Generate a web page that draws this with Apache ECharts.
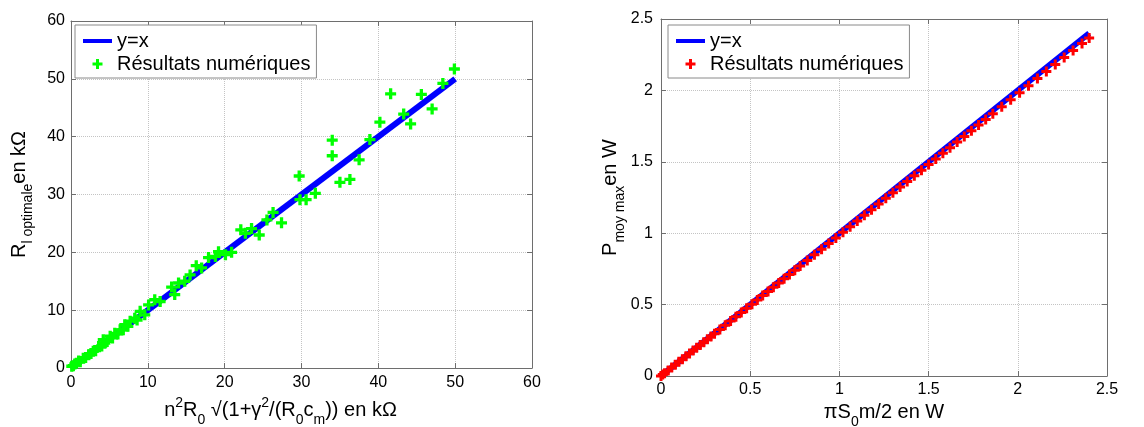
<!DOCTYPE html>
<html>
<head>
<meta charset="utf-8">
<script src="https://cdn.jsdelivr.net/npm/echarts@6/dist/echarts.min.js"></script>
<style>
  html, body { margin: 0; padding: 0; background: #fff; }
  #main { width: 1144px; height: 427px; }
</style>
</head>
<body>
<div id="main"></div>
<script>
// left panel: optimal load resistance (kOhm)
var resX = [0.1, 0.3, 0.5, 0.7, 1.0, 1.2, 1.6, 1.9, 2.3, 2.6, 2.9, 3.2, 3.6, 4.0, 4.2, 4.4, 4.7, 5.1, 5.4, 5.7,
            6.1, 6.4, 6.8, 7.0, 7.4, 7.7, 8.3, 8.6, 9.0, 9.6, 10.1, 10.9, 11.6, 13.1, 13.5, 14.0, 14.8, 15.5, 16.3, 17.0,
            17.9, 18.8, 19.2, 20.1, 20.9, 22.1, 22.7, 23.5, 24.5, 25.5, 26.3, 27.4, 29.7, 29.8, 30.6, 31.8, 34.0, 34.0, 35.0, 36.3,
            37.5, 38.9, 40.2, 41.6, 43.3, 44.2, 45.6, 47.0, 48.4, 49.9];
var resY = [0.3, 0.4, 0.7, 0.8, 1.2, 1.1, 1.7, 1.8, 2.3, 2.5, 2.9, 3.0, 3.7, 3.8, 4.9, 4.3, 4.6, 5.5, 5.2, 6.0,
            5.9, 6.6, 6.6, 7.5, 7.2, 8.1, 8.6, 8.3, 9.8, 9.2, 10.9, 11.8, 11.5, 14.0, 12.7, 14.7, 15.0, 16.1, 17.7, 17.3,
            19.1, 19.3, 20.1, 19.6, 20.0, 23.9, 23.3, 24.1, 23.0, 25.6, 26.9, 25.1, 33.2, 29.1, 29.1, 30.2, 39.4, 36.7, 32.1, 32.6,
            36.0, 39.5, 42.5, 47.4, 43.9, 42.2, 47.3, 44.8, 49.2, 51.7];
var refLeft = [[0, 0], [50, 50]];

// right panel: maximal mean power (W)
var pwrX = [0, 0.01, 0.02, 0.04, 0.06, 0.08, 0.10, 0.12, 0.14, 0.16, 0.18, 0.20, 0.22, 0.24, 0.26, 0.28, 0.30,
            0.33, 0.36, 0.39, 0.42, 0.45, 0.48, 0.51, 0.54, 0.57, 0.60, 0.63, 0.66, 0.69, 0.72, 0.75, 0.78,
            0.82, 0.86, 0.90, 0.94, 0.98, 1.02, 1.06, 1.10, 1.14, 1.18, 1.22, 1.26, 1.30, 1.34, 1.38, 1.42,
            1.46, 1.50, 1.54, 1.58, 1.62, 1.66, 1.70, 1.74, 1.78, 1.82, 1.86, 1.91, 1.96, 2.01, 2.06, 2.11,
            2.16, 2.21, 2.26, 2.31, 2.36, 2.40];
var pwrY = [0, 0.010, 0.020, 0.039, 0.059, 0.079, 0.099, 0.118, 0.138, 0.158, 0.178, 0.197, 0.217, 0.237, 0.257, 0.276, 0.296,
            0.326, 0.355, 0.385, 0.415, 0.444, 0.474, 0.503, 0.533, 0.563, 0.592, 0.622, 0.651, 0.681, 0.711, 0.740, 0.770,
            0.809, 0.849, 0.888, 0.928, 0.967, 1.007, 1.046, 1.086, 1.125, 1.165, 1.204, 1.244, 1.283, 1.323, 1.362, 1.402,
            1.441, 1.481, 1.520, 1.559, 1.599, 1.638, 1.678, 1.717, 1.757, 1.796, 1.836, 1.885, 1.935, 1.984, 2.033, 2.083,
            2.132, 2.181, 2.231, 2.280, 2.329, 2.367];
var refRight = [[0, 0], [2.4, 2.4]];

function pairs(xs, ys) {
    return xs.map(function (x, i) { return [x, ys[i]]; });
}

var FONT = '"Liberation Sans", Arial, sans-serif';
var AXIS_COLOR = '#6e6e6e';
var CROSS = 'path://M3.5,0H6.5V3.5H10V6.5H6.5V10H3.5V6.5H0V3.5H3.5Z';

var rich = {
    n: { fontSize: 20, fontFamily: FONT, color: '#000' },
    e: { fontSize: 20, fontFamily: FONT, color: '#000', padding: [0, 42, 0, 0] },
    sup: { fontSize: 14, fontFamily: FONT, color: '#000', padding: [0, 0, 16, 0] },
    sub: { fontSize: 14, fontFamily: FONT, color: '#000', padding: [18, 0, 0, 0] }
};

function mainAxis(grid, pos, min, max, step, name, gap, margin) {
    return {
        type: 'value', gridIndex: grid, position: pos,
        min: min, max: max, interval: step,
        axisLine: { show: true, onZero: false, lineStyle: { color: AXIS_COLOR, width: 1 } },
        axisTick: { show: true, inside: true, length: 5, lineStyle: { color: AXIS_COLOR } },
        axisLabel: { color: '#000', fontSize: 16, fontFamily: FONT, margin: margin },
        splitLine: { show: true, lineStyle: { color: '#c4c4c4', type: 'dotted', width: 1 } },
        name: name, nameLocation: 'middle', nameGap: gap,
        nameTextStyle: { rich: rich }
    };
}

function boxAxis(grid, pos, min, max, step) {
    return {
        type: 'value', gridIndex: grid, position: pos,
        min: min, max: max, interval: step,
        axisLine: { show: true, onZero: false, lineStyle: { color: AXIS_COLOR, width: 1 } },
        axisTick: { show: true, inside: true, length: 5, lineStyle: { color: AXIS_COLOR } },
        axisLabel: { show: false },
        splitLine: { show: false }
    };
}

function legendBox(left, lineName, dotName) {
    return {
        data: [
            { name: lineName, itemStyle: { opacity: 0 } },
            { name: dotName }
        ],
        orient: 'vertical',
        left: left, top: 25,
        backgroundColor: '#fff',
        borderColor: '#8a8a8a', borderWidth: 1, borderRadius: 0,
        padding: [6, 6, 4, 6],
        itemGap: 3, itemWidth: 29, itemHeight: 10, itemTextGap: 5,
        lineStyle: { width: 4 },
        selectedMode: false,
        formatter: function (n) { return n.trim(); },
        textStyle: { fontSize: 20, color: '#000', fontFamily: FONT }
    };
}

var chart = echarts.init(document.getElementById('main'));

chart.setOption({
    animation: false,
    backgroundColor: '#fff',
    textStyle: { fontFamily: FONT },
    grid: [
        { left: 71, top: 21, width: 461, height: 347, outerBoundsMode: 'none', containLabel: false },
        { left: 661, top: 19, width: 446, height: 357, outerBoundsMode: 'none', containLabel: false }
    ],
    xAxis: [
        mainAxis(0, 'bottom', 0, 60, 10,
            '{n|n}{sup|2}{n|R}{sub|0}{n| √(1+γ}{sup|2}{n|/(R}{sub|0}{n|c}{sub|m}{e|)) en kΩ}', 20, 7),
        boxAxis(0, 'top', 0, 60, 10),
        mainAxis(1, 'bottom', 0, 2.5, 0.5, '{n|πS}{sub|0}{n|m/2 en W}', 15, 6),
        boxAxis(1, 'top', 0, 2.5, 0.5)
    ],
    yAxis: [
        mainAxis(0, 'left', 0, 60, 10, '{n|R}{sub|l optimale}{n|en kΩ}', 36, 6),
        boxAxis(0, 'right', 0, 60, 10),
        mainAxis(1, 'left', 0, 2.5, 0.5, '{n|P}{sub|moy max}{n|en W}', 32, 8),
        boxAxis(1, 'right', 0, 2.5, 0.5)
    ],
    legend: [
        legendBox(75, 'y=x', 'Résultats numériques'),
        legendBox(668, 'y=x ', 'Résultats numériques ')
    ],
    series: [
        {
            name: 'y=x', type: 'line', xAxisIndex: 0, yAxisIndex: 0,
            data: refLeft, symbol: 'none', z: 2,
            lineStyle: { color: '#0000ff', width: 6 }, itemStyle: { color: '#0000ff' }
        },
        {
            name: 'Résultats numériques', type: 'scatter', xAxisIndex: 0, yAxisIndex: 0,
            data: pairs(resX, resY), symbol: CROSS, symbolSize: 11, symbolKeepAspect: true, z: 3,
            itemStyle: { color: '#00ff00', opacity: 1 }
        },
        {
            name: 'y=x ', type: 'line', xAxisIndex: 2, yAxisIndex: 2,
            data: refRight, symbol: 'none', z: 2,
            lineStyle: { color: '#0000ff', width: 6 }, itemStyle: { color: '#0000ff' }
        },
        {
            name: 'Résultats numériques ', type: 'scatter', xAxisIndex: 2, yAxisIndex: 2,
            data: pairs(pwrX, pwrY), symbol: CROSS, symbolSize: 10, symbolKeepAspect: true, z: 3,
            itemStyle: { color: '#ff0000', opacity: 1 }
        }
    ]
});

window.onresize = chart.resize;
</script>
</body>
</html>
